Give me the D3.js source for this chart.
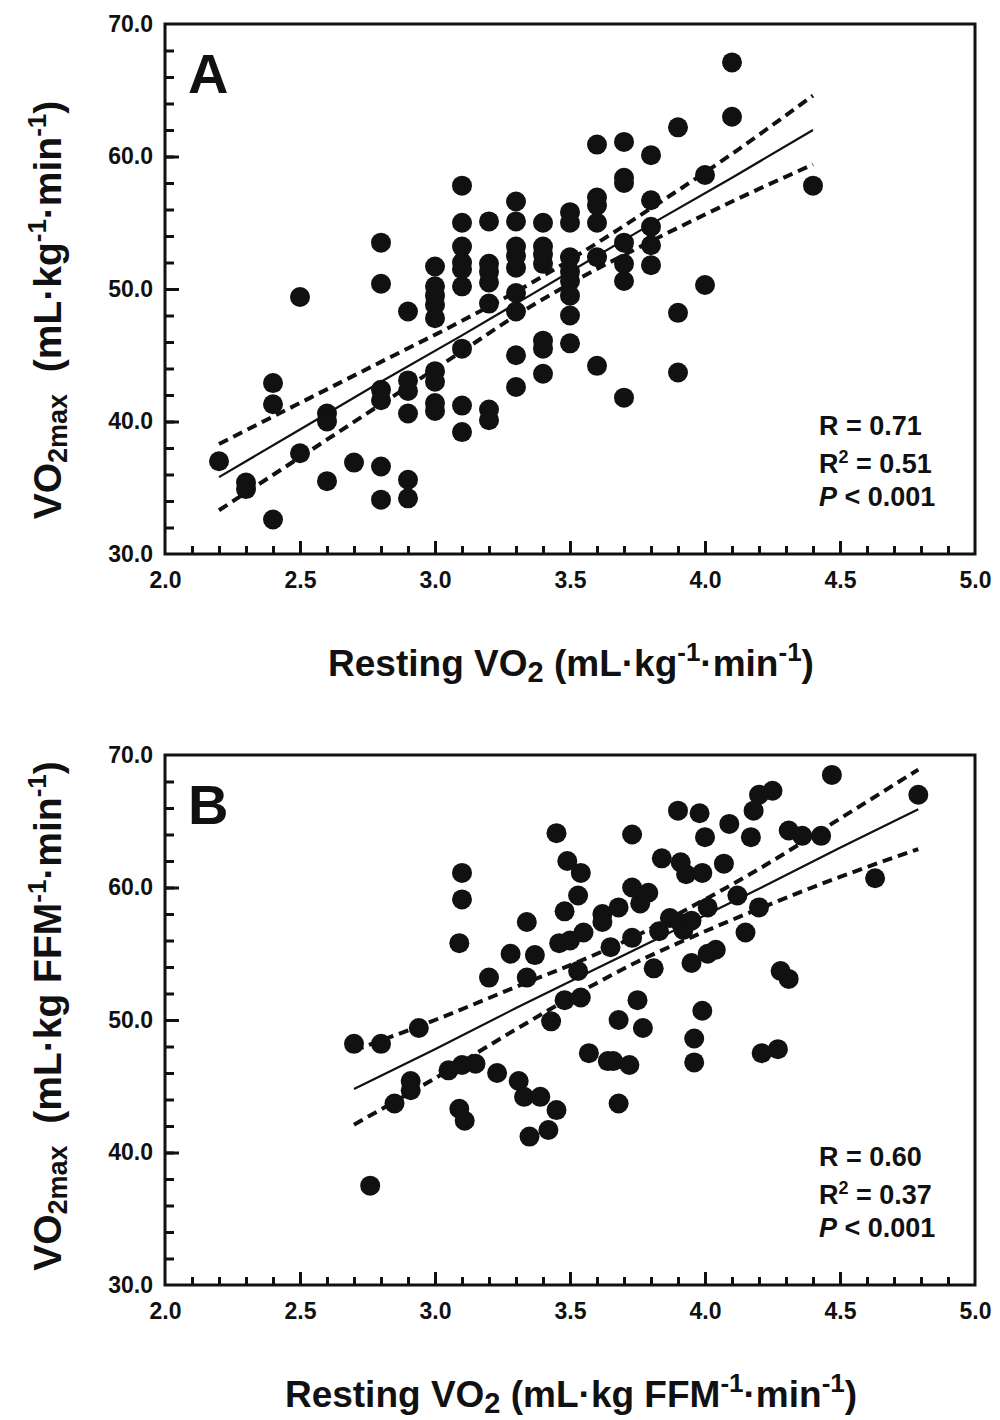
<!DOCTYPE html>
<html>
<head>
<meta charset="utf-8">
<script src="https://cdn.jsdelivr.net/npm/d3@7"></script>
<style>
  body { margin: 0; background: #fff; }
  svg text { font-family: "Liberation Sans", Arial, sans-serif; font-weight: bold; fill: #111; }
</style>
</head>
<body>
<svg id="fig" width="1000" height="1420"></svg>
<script>
// ---- panel A data: resting VO2 (mL/kg/min) vs VO2max
var aRest = [2.2, 2.3, 2.3, 2.4, 2.4, 2.4, 2.5, 2.5, 2.6, 2.6, 2.6, 2.7,
  2.8, 2.8, 2.8, 2.8, 2.8, 2.8, 2.9, 2.9, 2.9, 2.9, 2.9, 2.9,
  3.0, 3.0, 3.0, 3.0, 3.0, 3.0, 3.0, 3.0, 3.0,
  3.1, 3.1, 3.1, 3.1, 3.1, 3.1, 3.1, 3.1, 3.1,
  3.2, 3.2, 3.2, 3.2, 3.2, 3.2, 3.2,
  3.3, 3.3, 3.3, 3.3, 3.3, 3.3, 3.3, 3.3, 3.3,
  3.4, 3.4, 3.4, 3.4, 3.4, 3.4, 3.4,
  3.5, 3.5, 3.5, 3.5, 3.5, 3.5, 3.5, 3.5,
  3.6, 3.6, 3.6, 3.6, 3.6, 3.6,
  3.7, 3.7, 3.7, 3.7, 3.7, 3.7, 3.7,
  3.8, 3.8, 3.8, 3.8, 3.8,
  3.9, 3.9, 3.9, 4.0, 4.0, 4.1, 4.1, 4.4];
var aMax = [37.0, 35.4, 34.9, 42.9, 41.3, 32.6, 49.4, 37.6, 40.6, 40.0, 35.5, 36.9,
  53.5, 50.4, 42.4, 41.6, 36.6, 34.1, 48.3, 43.1, 42.3, 40.6, 35.6, 34.2,
  51.7, 50.2, 49.5, 48.8, 47.8, 43.8, 43.0, 41.4, 40.8,
  57.8, 55.0, 53.2, 52.0, 51.5, 50.2, 45.5, 41.2, 39.2,
  55.1, 51.9, 51.3, 50.5, 48.9, 40.9, 40.1,
  56.6, 55.1, 53.2, 52.5, 51.6, 49.7, 48.3, 45.0, 42.6,
  55.0, 53.2, 52.6, 51.9, 46.1, 45.5, 43.6,
  55.8, 55.0, 52.4, 51.3, 50.6, 49.5, 48.0, 45.9,
  60.9, 56.9, 56.3, 55.0, 52.4, 44.2,
  61.1, 58.4, 58.0, 53.5, 51.9, 50.6, 41.8,
  60.1, 56.7, 54.7, 53.3, 51.8,
  62.2, 48.2, 43.7, 58.6, 50.3, 67.1, 63.0, 57.8];

// regression line and 95% band
var aLineX  = [2.2, 2.5, 2.8, 3.1, 3.3, 3.5, 3.8, 4.1, 4.4];
var aFit    = [35.8, 39.4, 43.0, 46.5, 48.9, 51.3, 54.9, 58.4, 62.0];
var aUpper  = [38.3, 41.4, 44.5, 47.6, 49.8, 52.2, 56.1, 60.2, 64.6];
var aLower  = [33.3, 37.3, 41.3, 45.3, 48.0, 50.4, 53.6, 56.6, 59.4];

// ---- panel B data: resting VO2 (mL/kg FFM/min) vs VO2max
var bRest = [2.70, 2.80, 2.94, 2.76, 2.85, 2.91, 2.91, 3.05, 3.10, 3.15, 3.09, 3.11,
  3.23, 3.31, 3.33, 3.39, 3.45, 3.42, 3.35, 3.43, 3.10, 3.10, 3.09, 3.20,
  3.28, 3.34, 3.34, 3.37, 3.45, 3.49, 3.54, 3.48, 3.53, 3.46, 3.50, 3.55,
  3.53, 3.54, 3.48, 3.57, 3.62, 3.62, 3.65, 3.64, 3.66, 3.68, 3.68, 3.68,
  3.72, 3.73, 3.73, 3.73, 3.75, 3.76, 3.77, 3.79, 3.81, 3.83, 3.84, 3.87,
  3.90, 3.91, 3.93, 3.91, 3.92, 3.95, 3.95, 3.96, 3.96, 3.98, 3.99, 4.00,
  4.01, 4.01, 3.99, 4.04, 4.07, 4.09, 4.12, 4.15, 4.17, 4.18, 4.20, 4.20,
  4.25, 4.21, 4.27, 4.28, 4.31, 4.31, 4.36, 4.43, 4.47, 4.63, 4.79];
var bMax = [48.2, 48.2, 49.4, 37.5, 43.7, 45.4, 44.7, 46.2, 46.6, 46.7, 43.3, 42.4,
  46.0, 45.4, 44.2, 44.2, 43.2, 41.7, 41.2, 49.9, 61.1, 59.1, 55.8, 53.2,
  55.0, 57.4, 53.2, 54.9, 64.1, 62.0, 61.1, 58.2, 59.4, 55.8, 56.0, 56.6,
  53.7, 51.7, 51.5, 47.5, 58.0, 57.4, 55.5, 46.9, 46.9, 50.0, 43.7, 58.5,
  46.6, 64.0, 60.0, 56.2, 51.5, 58.8, 49.4, 59.6, 53.9, 56.7, 62.2, 57.7,
  65.8, 61.9, 61.0, 57.3, 56.8, 57.5, 54.3, 48.6, 46.8, 65.6, 61.1, 63.8,
  58.5, 55.0, 50.7, 55.3, 61.8, 64.8, 59.4, 56.6, 63.8, 65.8, 58.5, 67.0,
  67.3, 47.5, 47.8, 53.7, 53.1, 64.3, 63.9, 63.9, 68.5, 60.7, 67.0];

var bLineX  = [2.70, 3.0, 3.3, 3.6, 3.75, 3.9, 4.2, 4.5, 4.79];
var bFit    = [44.8, 47.8, 50.9, 53.9, 55.4, 56.9, 59.9, 63.0, 65.9];
var bUpper  = [47.7, 50.0, 52.5, 55.0, 56.4, 58.0, 61.4, 65.2, 68.9];
var bLower  = [42.1, 45.6, 49.3, 52.8, 54.4, 55.8, 58.4, 60.8, 62.9];

// ---- axes / labels
var xMajor = [2.0, 2.5, 3.0, 3.5, 4.0, 4.5, 5.0];
var yMajor = [30, 40, 50, 60, 70];
var statsA = ["R = 0.71", "0.51", "< 0.001"];
var statsB = ["R = 0.60", "0.37", "< 0.001"];

var svg = d3.select("#fig");

function drawPanel(p) {
  var left = 165, right = 975, top = p.top, bottom = p.top + 530;

  var x = d3.scaleLinear().domain([2, 5]).range([left, right]),
      y = d3.scaleLinear().domain([30, 70]).range([bottom, top]);

  var g = svg.append("g");

  // minor ticks (every 0.1 / every 2)
  var xMinor = d3.range(21, 50).map(function(d) { return d / 10; });
  var yMinor = d3.range(32, 70, 2);

  g.append("g")
    .attr("transform", "translate(0," + bottom + ")")
    .call(d3.axisBottom(x).tickValues(xMinor).tickSize(-8).tickFormat(""));
  g.append("g")
    .attr("transform", "translate(" + left + ",0)")
    .call(d3.axisLeft(y).tickValues(yMinor).tickSize(-9).tickFormat(""));

  // major ticks with labels
  g.append("g")
    .attr("class", "xmaj")
    .attr("transform", "translate(0," + bottom + ")")
    .call(d3.axisBottom(x).tickValues(xMajor).tickSize(-13).tickPadding(18)
      .tickFormat(d3.format(".1f")));
  g.append("g")
    .attr("class", "ymaj")
    .attr("transform", "translate(" + left + ",0)")
    .call(d3.axisLeft(y).tickValues(yMajor).tickSize(-14).tickPadding(12)
      .tickFormat(d3.format(".1f")));

  g.selectAll(".domain").remove();
  g.selectAll(".tick line").attr("stroke", "#111").attr("stroke-width", 3);
  g.selectAll(".tick text").attr("font-size", 23).attr("fill", "#111")
    .attr("font-family", "Liberation Sans, Arial, sans-serif").attr("font-weight", "bold");
  // ticks at the frame ends are hidden by the frame itself
  g.selectAll(".xmaj .tick line").filter(function(d) { return d == 2 || d == 5; }).remove();
  g.selectAll(".ymaj .tick line").filter(function(d) { return d == 30 || d == 70; }).remove();

  g.append("rect")
    .attr("x", left).attr("y", top)
    .attr("width", right - left).attr("height", bottom - top)
    .attr("fill", "none").attr("stroke", "#111").attr("stroke-width", 3);

  // points
  g.append("g").selectAll("circle")
    .data(p.rest)
    .enter().append("circle")
    .attr("cx", function(d) { return x(d); })
    .attr("cy", function(d, i) { return y(p.max[i]); })
    .attr("r", 10)
    .attr("fill", "#111");

  var line = d3.line()
    .x(function(d) { return x(d[0]); })
    .y(function(d) { return y(d[1]); });

  function pairs(ys) { return p.lineX.map(function(v, i) { return [v, ys[i]]; }); }

  g.append("path").datum(pairs(p.fit))
    .attr("d", line).attr("fill", "none").attr("stroke", "#111").attr("stroke-width", 2.2);
  [p.upper, p.lower].forEach(function(band) {
    g.append("path").datum(pairs(band))
      .attr("d", d3.line().curve(d3.curveMonotoneX)
        .x(function(d) { return x(d[0]); }).y(function(d) { return y(d[1]); }))
      .attr("fill", "none").attr("stroke", "#111").attr("stroke-width", 4)
      .attr("stroke-dasharray", "10,6");
  });

  // panel letter
  g.append("text").attr("x", 188).attr("y", top + 69)
    .attr("font-size", 56).text(p.letter);

  // stats block
  var st = g.append("g").attr("font-size", 27);
  st.append("text").attr("x", 819).attr("y", top + 411).text(p.stats[0]);
  var r2 = st.append("text").attr("x", 819).attr("y", top + 449);
  r2.append("tspan").text("R");
  r2.append("tspan").attr("font-size", 18).attr("baseline-shift", "super").text("2");
  r2.append("tspan").text(" = " + p.stats[1]);
  var pv = st.append("text").attr("x", 819).attr("y", top + 482);
  pv.append("tspan").attr("font-style", "italic").text("P");
  pv.append("tspan").text(" " + p.stats[2]);

  // x title
  var xt = g.append("text").attr("x", 571).attr("y", bottom + 122)
    .attr("text-anchor", "middle").attr("font-size", 37);
  xt.append("tspan").text("Resting VO");
  xt.append("tspan").attr("font-size", 29).attr("baseline-shift", "-20%").text("2");
  xt.append("tspan").text(" (mL\u00b7kg" + p.unitMid);
  xt.append("tspan").attr("font-size", 26).attr("baseline-shift", "super").text("-1");
  xt.append("tspan").text("\u00b7min");
  xt.append("tspan").attr("font-size", 26).attr("baseline-shift", "super").text("-1");
  xt.append("tspan").text(")");

  // y title
  var yt = g.append("text")
    .attr("transform", "translate(61," + p.yTitleMid + ") rotate(-90)")
    .attr("text-anchor", "middle").attr("font-size", 39);
  yt.append("tspan").text("VO");
  yt.append("tspan").attr("font-size", 27).attr("baseline-shift", "-22%").text("2max");
  yt.append("tspan").text("\u00a0\u00a0(mL\u00b7kg" + p.unitMid);
  yt.append("tspan").attr("font-size", 26).attr("baseline-shift", "super").text("-1");
  yt.append("tspan").text("\u00b7min");
  yt.append("tspan").attr("font-size", 26).attr("baseline-shift", "super").text("-1");
  yt.append("tspan").text(")");
}

drawPanel({top: 24, letter: "A", rest: aRest, max: aMax,
  lineX: aLineX, fit: aFit, upper: aUpper, lower: aLower,
  stats: statsA, unitMid: "", yTitleMid: 310});

drawPanel({top: 755, letter: "B", rest: bRest, max: bMax,
  lineX: bLineX, fit: bFit, upper: bUpper, lower: bLower,
  stats: statsB, unitMid: " FFM", yTitleMid: 1016});
</script>
</body>
</html>
